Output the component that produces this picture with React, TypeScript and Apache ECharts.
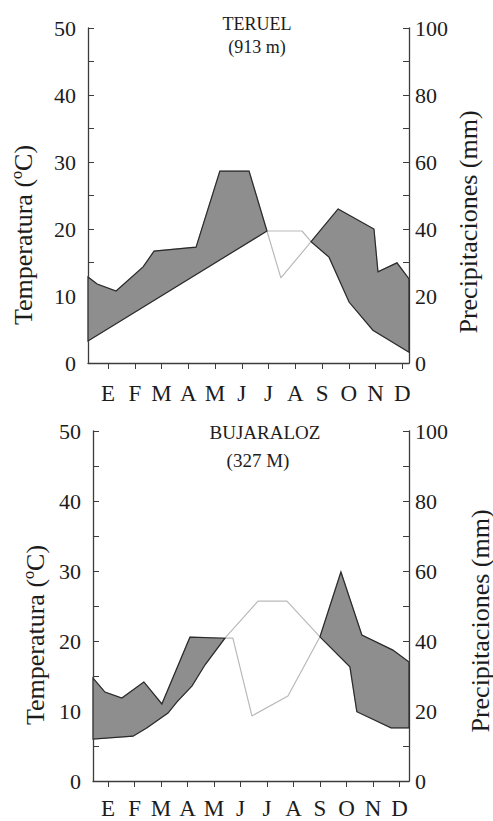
import React, { useEffect, useRef } from "react";
import * as echarts from "echarts";

// Month labels and tick positions (x-axis unit = one month)
const months = ["E", "F", "M", "A", "M", "J", "J", "A", "S", "O", "N", "D"];
const monthTicks = [1, 2, 3, 4, 5, 6, 7, 8, 9, 10, 11, 12];
const tempTicks = [0, 5, 10, 15, 20, 25, 30, 35, 40, 45, 50];
const tempLabels = [0, 10, 20, 30, 40, 50];
const precTicks = [0, 10, 20, 30, 40, 50, 60, 70, 80, 90, 100];
const precLabels = [0, 20, 40, 60, 80, 100];

// TERUEL (913 m)
const teruelTempX = [0.25, 6.94, 8.25, 8.59, 9.26, 10.01, 10.9, 12.25];
const teruelTemp = [3.3, 19.7, 19.7, 18.1, 15.8, 9.1, 4.9, 1.6];
const teruelPrecX = [0.25, 0.59, 1.3, 2.31, 2.72, 4.29, 5.18, 6.27, 6.94, 7.46, 8.59, 9.6, 10.94, 11.09, 11.8, 12.25];
const teruelPrec = [25.7, 23.6, 21.5, 28.7, 33.4, 34.6, 57.3, 57.3, 39.4, 25.4, 36.2, 46.0, 40.0, 27.2, 29.9, 25.1];
const teruelHumid = [[0.25, 6.94], [8.59, 12.25]];

// BUJARALOZ (327 M)
const bujTempX = [0.43, 1.94, 2.47, 3.26, 3.6, 4.17, 4.66, 5.41, 6.66, 7.75, 9.0, 10.13, 10.39, 11.68, 12.36];
const bujTemp = [6.0, 6.4, 7.6, 9.7, 11.3, 13.6, 16.6, 20.4, 25.7, 25.7, 20.6, 16.3, 9.9, 7.6, 7.6];
const bujPrecX = [0.43, 0.88, 1.52, 2.35, 3.03, 4.09, 5.41, 5.71, 6.43, 7.79, 9.0, 9.79, 10.58, 11.75, 12.36];
const bujPrec = [29.4, 25.4, 23.7, 28.3, 22.0, 41.1, 40.8, 40.8, 18.6, 24.3, 41.2, 59.7, 41.7, 37.4, 34.0];
const bujHumid = [[0.43, 5.41], [9.0, 12.36]];

const FONT = "Liberation Serif";
const TXT = "#1c1c1c";
const AXIS = "#3c3c3c";
const FILL = "#8e8e8e";
const DRY = "#b9b9b9";

const zip = (xs: number[], ys: number[]) => xs.map((x, i) => [x, ys[i]]);

function humidSeries(
  xIdx: number,
  yIdx: number,
  tX: number[],
  t: number[],
  pX: number[],
  p: number[],
  ranges: number[][]
) {
  return {
    type: "custom",
    xAxisIndex: xIdx,
    yAxisIndex: yIdx,
    z: 5,
    data: ranges,
    renderItem: (_params: any, api: any) => {
      const x0 = api.value(0) - 1e-6;
      const x1 = api.value(1) + 1e-6;
      const top = zip(pX, p)
        .filter((q) => q[0] >= x0 && q[0] <= x1)
        .map((q) => [q[0], q[1] / 2]);
      const bot = zip(tX, t)
        .filter((q) => q[0] >= x0 && q[0] <= x1)
        .reverse();
      const pts = top.concat(bot).map((q) => api.coord(q));
      return {
        type: "polygon",
        shape: { points: pts },
        style: { fill: FILL, stroke: "#2a2a2a", lineWidth: 1.2 },
      };
    },
  };
}

function xAxisDef(gridIndex: number, min: number, max: number, margin: number) {
  return {
    type: "value",
    gridIndex,
    min,
    max,
    axisLine: { show: true, lineStyle: { color: AXIS, width: 1.3 } },
    axisTick: { show: true, customValues: monthTicks, length: 6, inside: false, lineStyle: { color: AXIS } },
    axisLabel: {
      customValues: monthTicks,
      formatter: (v: number) => months[Math.round(v) - 1] || "",
      fontFamily: FONT,
      fontSize: 23,
      color: TXT,
      margin,
    },
    splitLine: { show: false },
  };
}

function yAxisDef(gridIndex: number, left: boolean) {
  return {
    type: "value",
    gridIndex,
    position: left ? "left" : "right",
    min: 0,
    max: left ? 50 : 100,
    axisLine: { show: true, onZero: false, lineStyle: { color: AXIS, width: 1.3 } },
    axisTick: { show: true, inside: true, length: 6, customValues: left ? tempTicks : precTicks, lineStyle: { color: AXIS } },
    axisLabel: {
      customValues: left ? tempLabels : precLabels,
      fontFamily: FONT,
      fontSize: 22,
      color: TXT,
      margin: left ? 12 : 6,
    },
    splitLine: { show: false },
  };
}

function lineDef(xIdx: number, yIdx: number, data: number[][]) {
  return {
    type: "line",
    xAxisIndex: xIdx,
    yAxisIndex: yIdx,
    data,
    symbol: "none",
    z: 2,
    lineStyle: { color: DRY, width: 1.2 },
  };
}

function vText(text: string, x: number, y: number) {
  return {
    type: "text",
    x,
    y,
    rotation: Math.PI / 2,
    style: {
      text,
      fontFamily: FONT,
      fontSize: 26,
      fill: TXT,
      align: "center",
      verticalAlign: "middle",
    },
  };
}

function hText(text: string, x: number, y: number, size: number) {
  return {
    type: "text",
    x,
    y,
    style: {
      text,
      fontFamily: FONT,
      fontSize: size,
      fill: TXT,
      align: "center",
      verticalAlign: "middle",
    },
  };
}

export default function App() {
  const ref = useRef<HTMLDivElement>(null);
  useEffect(() => {
    document.body.style.margin = "0";
    const chart = echarts.init(ref.current!, null, { renderer: "svg" });
    chart.setOption({
      animation: false,
      backgroundColor: "#ffffff",
      textStyle: { fontFamily: FONT },
      grid: [
        { left: 88, top: 28, width: 321, height: 335 },
        { left: 93, top: 431, width: 316, height: 350 },
      ],
      xAxis: [xAxisDef(0, 0.25, 12.25, 19), xAxisDef(1, 0.43, 12.36, 16)],
      yAxis: [yAxisDef(0, true), yAxisDef(0, false), yAxisDef(1, true), yAxisDef(1, false)],
      series: [
        lineDef(0, 0, zip(teruelTempX, teruelTemp)),
        lineDef(0, 1, zip(teruelPrecX, teruelPrec)),
        humidSeries(0, 0, teruelTempX, teruelTemp, teruelPrecX, teruelPrec, teruelHumid),
        lineDef(1, 2, zip(bujTempX, bujTemp)),
        lineDef(1, 3, zip(bujPrecX, bujPrec)),
        humidSeries(1, 2, bujTempX, bujTemp, bujPrecX, bujPrec, bujHumid),
      ],
      graphic: [
        hText("TERUEL", 257, 24, 18),
        hText("(913 m)", 257, 47, 18),
        hText("BUJARALOZ", 265, 432, 19),
        hText("(327 M)", 258, 460, 19),
        vText("Temperatura (ºC)", 23, 235),
        vText("Precipitaciones (mm)", 468, 222),
        vText("Temperatura (ºC)", 35, 635),
        vText("Precipitaciones (mm)", 480, 621),
      ],
    });
    return () => chart.dispose();
  }, []);
  return <div ref={ref} style={{ width: 493, height: 821 }} />;
}
